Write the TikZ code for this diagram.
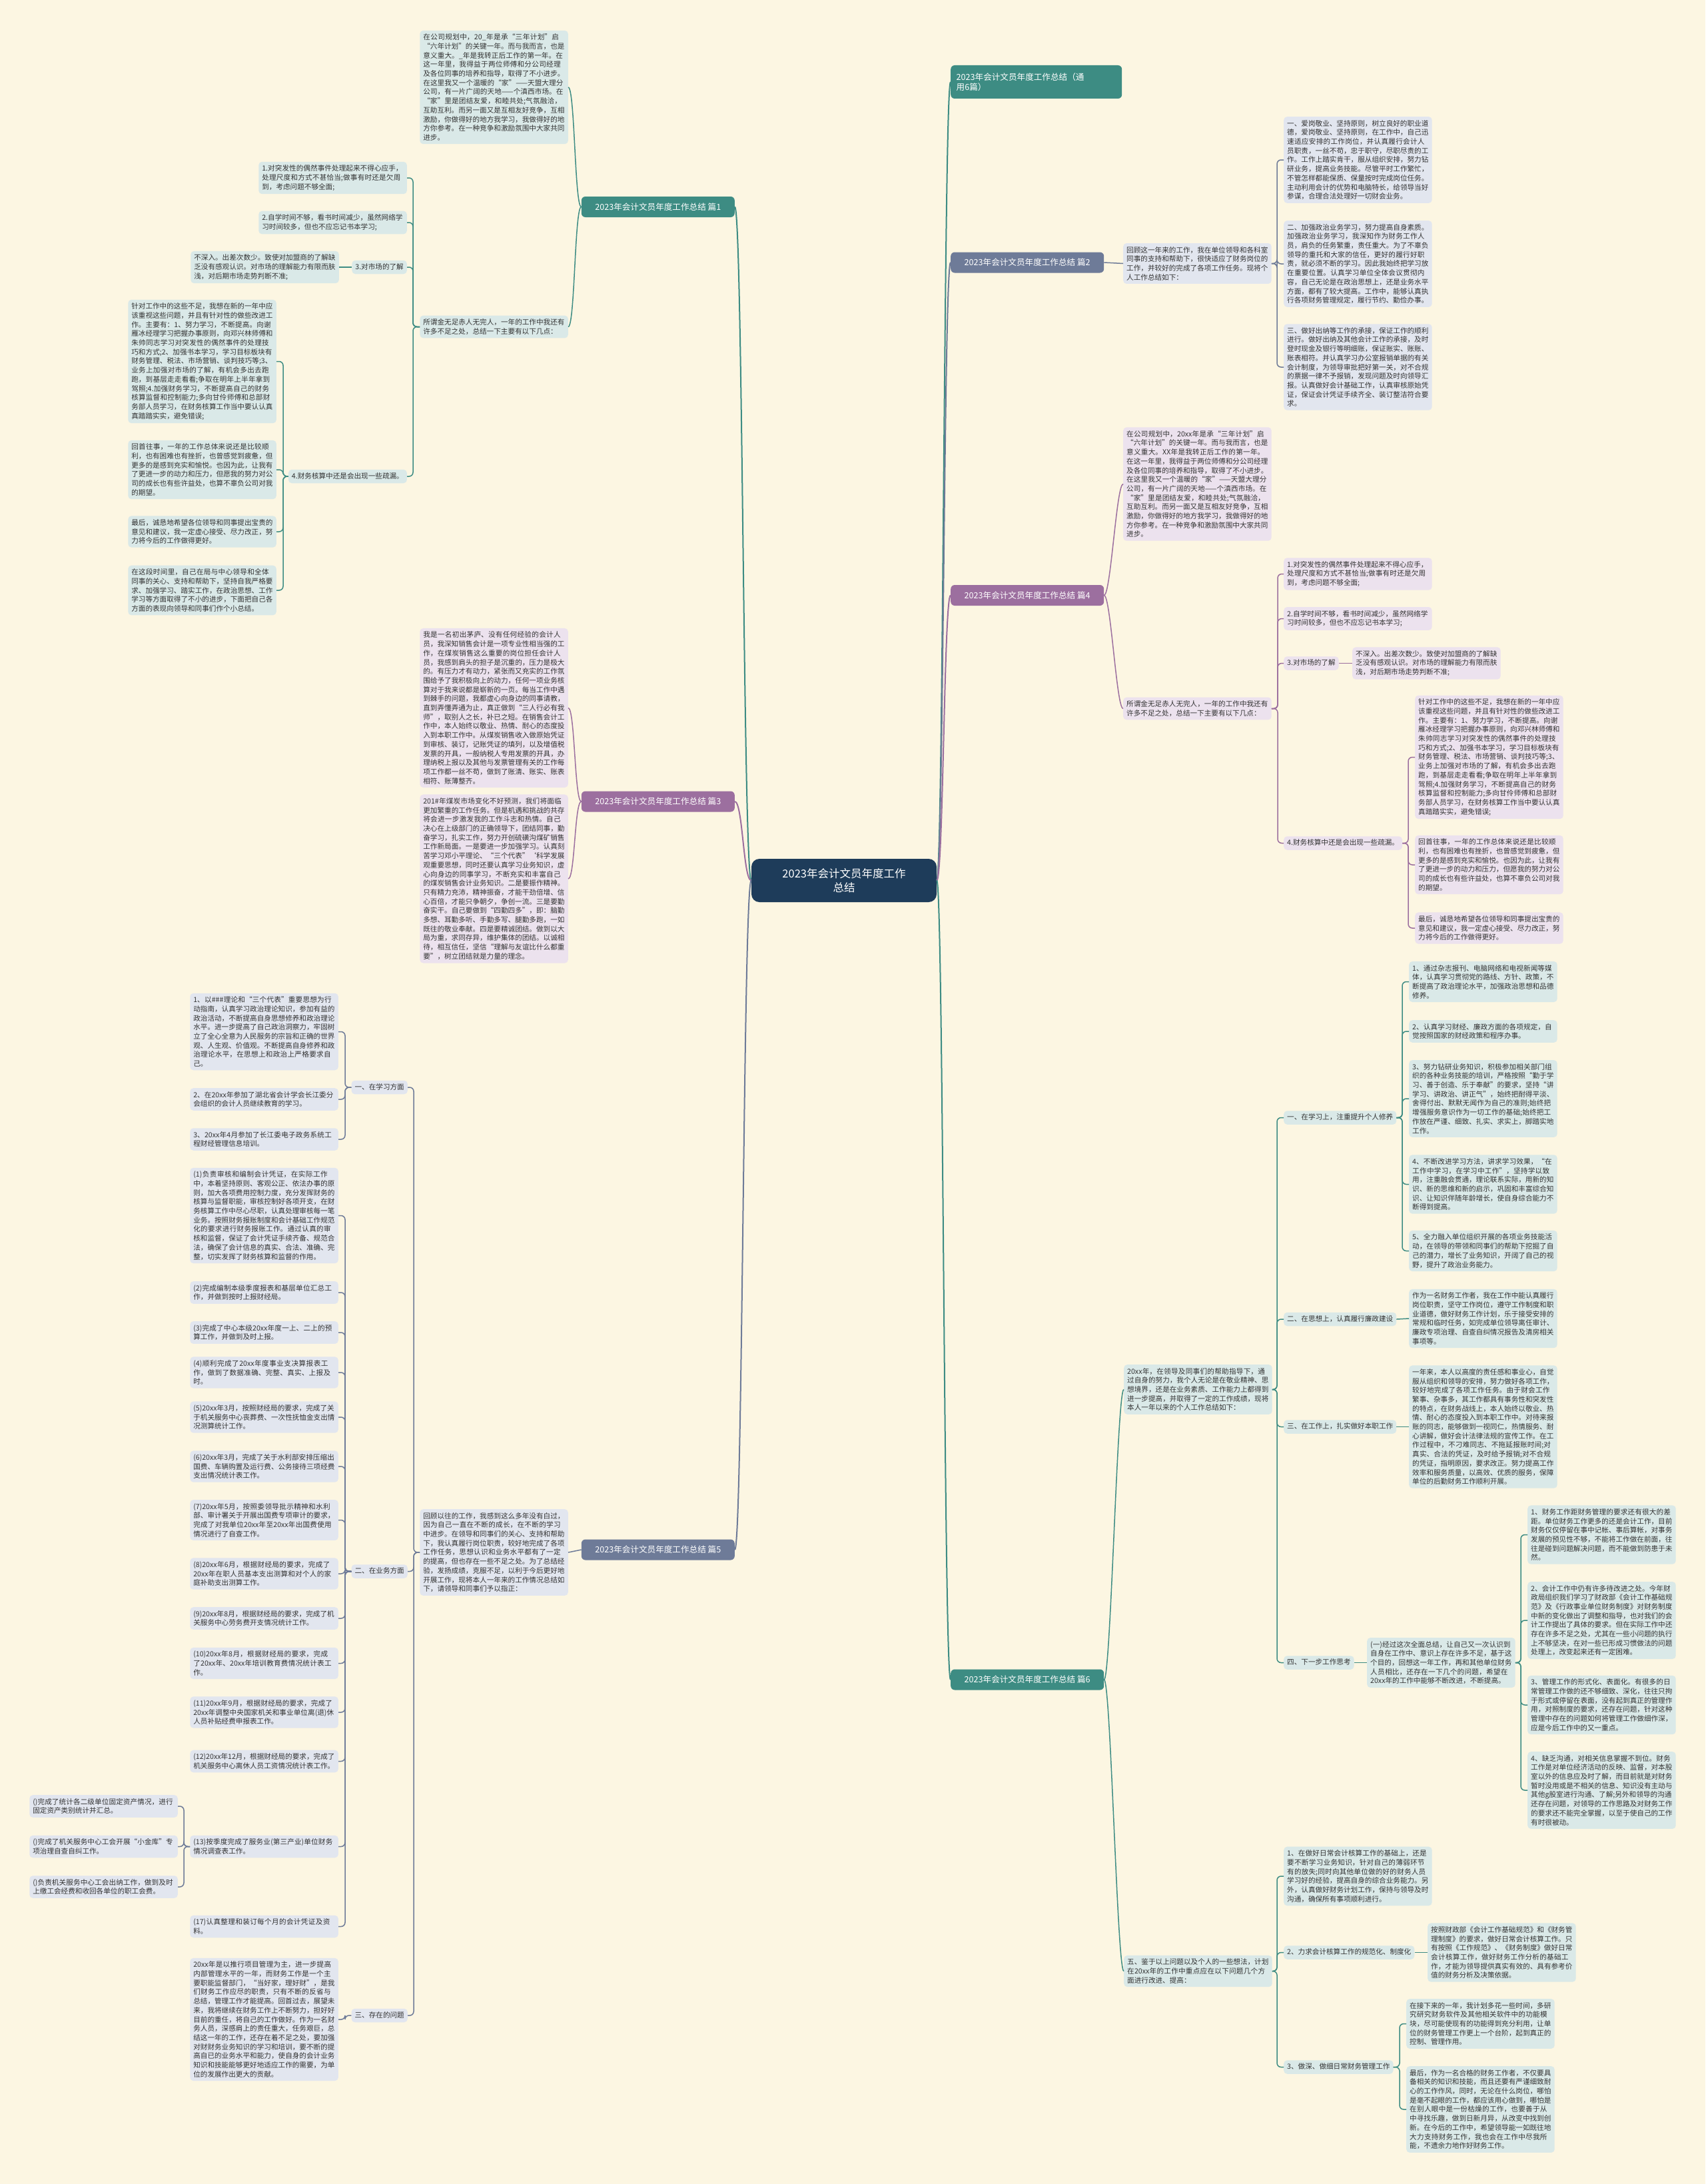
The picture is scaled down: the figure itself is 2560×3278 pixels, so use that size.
\documentclass[tikz,border=0pt]{standalone}
\usepackage{fontspec}
\setmainfont{Noto Sans CJK SC}
\XeTeXlinebreaklocale "zh"
\XeTeXlinebreakskip=0pt plus 1pt
\definecolor{bg}{RGB}{252,246,226}
\definecolor{txt}{RGB}{51,51,51}
\definecolor{cT}{RGB}{61,140,131}
\definecolor{cS}{RGB}{110,123,152}
\definecolor{cP}{RGB}{156,111,159}
\definecolor{fT}{RGB}{218,233,232}
\definecolor{fS}{RGB}{226,230,239}
\definecolor{fP}{RGB}{236,226,238}
\definecolor{navy}{RGB}{30,60,90}
\newcommand\fsb{\fontsize{10.6pt}{13.7pt}\selectfont}
\begin{document}
\begin{tikzpicture}[x=1pt,y=-1pt,
  tbox/.style={text width=212.5pt, align=left, inner xsep=5pt, inner ysep=5pt, rounded corners=5pt, font=\fsb, text=txt},
  tlab/.style={align=left, inner xsep=5pt, inner ysep=5pt, rounded corners=5pt, font=\fsb, text=txt, text height=8.5pt, text depth=2pt},
  bT/.style={tbox, fill=fT}, bS/.style={tbox, fill=fS}, bP/.style={tbox, fill=fP},
  lT/.style={tlab, fill=fT}, lS/.style={tlab, fill=fS}, lP/.style={tlab, fill=fP},
  lnT/.style={draw=cT, line width=1.5pt, rounded corners=6pt},
  lnS/.style={draw=cS, line width=1.5pt, rounded corners=6pt},
  lnP/.style={draw=cP, line width=1.5pt, rounded corners=6pt},
  lv1/.style={minimum width=230pt, minimum height=31pt, inner sep=0pt, rounded corners=6pt, font=\fontsize{12.6pt}{15.5pt}\selectfont, text=white},
  L/.style={anchor=east}, R/.style={anchor=west}
]
\fill[bg] (0,0) rectangle (2560,3278);
\useasboundingbox (0,0) rectangle (2560,3278);

% trunk coordinates
\coordinate (t1) at (620,0);
\coordinate (t1d) at (425,0);
\coordinate (t2) at (1917,0);
\coordinate (t4) at (1918,0);
\coordinate (t4d) at (2114,0);
\coordinate (t5) at (621,0);
\coordinate (t5a) at (518,0);
\coordinate (t5s) at (276,0);
\coordinate (t6) at (1917,0);
\coordinate (t6a) at (2105,0);
\coordinate (t6d) at (2283,0);
\coordinate (t6f) at (2101,0);

% center
\node[fill=navy, text=white, rounded corners=12pt, minimum width=278pt, minimum height=65pt, align=center, font=\fontsize{16.5pt}{21pt}\selectfont] (c) at (1267,1321.5) {2023年会计文员年度工作\\总结};

% level 1
\node[lv1, R, fill=cT, minimum width=257pt, minimum height=50pt, align=left, text width=240pt] (g0) at (1427,123) {2023年会计文员年度工作总结（通\\用6篇）};
\node[lv1, L, fill=cT] (b1) at (1103,310.5) {2023年会计文员年度工作总结 篇1};
\node[lv1, R, fill=cS] (b2) at (1427,394) {2023年会计文员年度工作总结 篇2};
\node[lv1, L, fill=cP] (b3) at (1103,1203) {2023年会计文员年度工作总结 篇3};
\node[lv1, R, fill=cP] (b4) at (1427,893.5) {2023年会计文员年度工作总结 篇4};
\node[lv1, L, fill=cS] (b5) at (1103,2326) {2023年会计文员年度工作总结 篇5};
\node[lv1, R, fill=cT] (b6) at (1427,2521) {2023年会计文员年度工作总结 篇6};

\draw[cT, line width=2pt] (c.east) .. controls +(10,0) and +(-10,0) .. (g0.west);
\draw[cT, line width=2pt] (c.west) .. controls +(-12,0) and +(12,0) .. (b1.east);
\draw[cS, line width=2pt] (c.east) .. controls +(10,0) and +(-10,0) .. (b2.west);
\draw[cP, line width=2pt] (c.west) .. controls +(-12,0) and +(12,0) .. (b3.east);
\draw[cP, line width=2pt] (c.east) .. controls +(10,0) and +(-10,0) .. (b4.west);
\draw[cS, line width=2pt] (c.west) .. controls +(-12,0) and +(12,0) .. (b5.east);
\draw[cT, line width=2pt] (c.east) .. controls +(10,0) and +(-10,0) .. (b6.west);

% ---------------- 篇1 ----------------
\node[bT, L] (p1i) at (853,131) {在公司规划中，20\_年是承“三年计划”启“六年计划”的关键一年。而与我而言，也是意义重大。\_年是我转正后工作的第一年。在这一年里，我得益于两位师傅和分公司经理及各位同事的培养和指导，取得了不小进步。在这里我又一个温暖的“家”——天盟大理分公司，有一片广阔的天地——个滇西市场。在“家”里是团结友爱，和睦共处;气氛融洽，互助互利。而另一面又是互相友好竞争，互相激励，你做得好的地方我学习，我做得好的地方你参考。在一种竞争和激励氛围中大家共同进步。};
\node[bT, L] (p1s) at (853,490.5) {所谓金无足赤人无完人，一年的工作中我还有许多不足之处，总结一下主要有以下几点：};
\node[bT, L] (p1c1) at (611,267) {1.对突发性的偶然事件处理起来不得心应手，处理尺度和方式不甚恰当;做事有时还是欠周到，考虑问题不够全面;};
\node[bT, L] (p1c2) at (611,334) {2.自学时间不够，看书时间减少，虽然网络学习时间较多，但也不应忘记书本学习;};
\node[lT, L] (p1c3) at (611,401) {3.对市场的了解};
\node[bT, L] (p1c3x) at (509,401) {不深入。出差次数少。致使对加盟商的了解缺乏没有感观认识。对市场的理解能力有限而肤浅，对后期市场走势判断不准;};
\node[lT, L] (p1c4) at (611,715) {4.财务核算中还是会出现一些疏漏。};
\node[bT, L] (p1d1) at (415,542.5) {针对工作中的这些不足，我想在新的一年中应该重视这些问题，并且有针对性的做些改进工作。主要有：1、努力学习，不断提高。向谢雁冰经理学习把握办事原则，向邓兴林师傅和朱帅同志学习对突发性的偶然事件的处理技巧和方式;2、加强书本学习，学习目标板块有财务管理、税法、市场营销、谈判技巧等;3、业务上加强对市场的了解，有机会多出去跑跑，到基层走走看看;争取在明年上半年拿到驾照;4.加强财务学习，不断提高自己的财务核算监督和控制能力;多向甘伶师傅和总部财务部人员学习，在财务核算工作当中要认认真真踏踏实实，避免错误;};
\node[bT, L] (p1d2) at (415,705) {回首往事，一年的工作总体来说还是比较顺利，也有困难也有挫折，也曾感觉到疲惫，但更多的是感到充实和愉悦。也因为此，让我有了更进一步的动力和压力，但愿我的努力对公司的成长也有些许益处，也算不辜负公司对我的期望。};
\node[bT, L] (p1d3) at (415,798) {最后，诚恳地希望各位领导和同事提出宝贵的意见和建议，我一定虚心接受、尽力改正，努力将今后的工作做得更好。};
\node[bT, L] (p1d4) at (415,886) {在这段时间里，自己在局与中心领导和全体同事的关心、支持和帮助下，坚持自我严格要求、加强学习、踏实工作，在政治思想、工作学习等方面取得了不小的进步，下面把自己各方面的表现向领导和同事们作个小总结。};

\draw[cT, line width=1.5pt] (b1.west) .. controls +(-10,0) and +(10,0) .. (p1i.east);
\draw[cT, line width=1.5pt] (b1.west) .. controls +(-10,0) and +(10,0) .. (p1s.east);
\foreach \n in {p1c1,p1c2,p1c3,p1c4} \draw[lnT] (p1s.west) -- (p1s.west -| t1) |- (\n.east);
\draw[lnT] (p1c3.west) -- (p1c3x.east);
\foreach \n in {p1d1,p1d2,p1d3,p1d4} \draw[lnT] (p1c4.west) -- (p1c4.west -| t1d) |- (\n.east);

% ---------------- 篇2 ----------------
\node[bS, R] (p2i) at (1686,395.5) {回顾这一年来的工作，我在单位领导和各科室同事的支持和帮助下，很快适应了财务岗位的工作，并较好的完成了各项工作任务。现将个人工作总结如下：};
\node[bS, R] (p2c1) at (1927,240) {一、爱岗敬业、坚持原则，树立良好的职业道德，爱岗敬业、坚持原则，在工作中，自己迅速适应安排的工作岗位，并认真履行会计人员职责，一丝不苟，忠于职守，尽职尽责的工作。工作上踏实肯干，服从组织安排，努力钻研业务，提高业务技能。尽管平时工作繁忙，不管怎样都能保质、保量按时完成岗位任务。主动利用会计的优势和电脑特长，给领导当好参谋，合理合法处理好一切财会业务。};
\node[bS, R] (p2c2) at (1927,396) {二、加强政治业务学习，努力提高自身素质。加强政治业务学习，我深知作为财务工作人员，肩负的任务繁重，责任重大。为了不辜负领导的重托和大家的信任，更好的履行好职责，就必须不断的学习。因此我始终把学习放在重要位置。认真学习单位全体会议贯彻内容，自己无论是在政治思想上，还是业务水平方面，都有了较大提高。工作中，能够认真执行各项财务管理规定，履行节约、勤俭办事。};
\node[bS, R] (p2c3) at (1927,551) {三、做好出纳等工作的承接，保证工作的顺利进行。做好出纳及其他会计工作的承接，及时登时现金及银行等明细账，保证账实、账账、账表相符。并认真学习办公室报销单据的有关会计制度，为领导审批把好第一关，对不合规的票据一律不予报销，发现问题及时向领导汇报。认真做好会计基础工作，认真审核原始凭证，保证会计凭证手续齐全、装订整洁符合要求。};
\draw[lnS] (b2.east) -- (p2i.west);
\foreach \n in {p2c1,p2c2,p2c3} \draw[lnS] (p2i.east) -- (p2i.east -| t2) |- (\n.west);

% ---------------- 篇3 ----------------
\node[bP, L] (p3a) at (853,1062.5) {我是一名初出茅庐、没有任何经验的会计人员，我深知销售会计是一项专业性相当强的工作，在煤炭销售这么重要的岗位担任会计人员，我感到肩头的担子是沉重的，压力是极大的。有压力才有动力，紧张而又充实的工作氛围给予了我积极向上的动力，任何一项业务核算对于我来说都是崭新的一页。每当工作中遇到棘手的问题，我都虚心向身边的同事请教，直到弄懂弄通为止，真正做到“三人行必有我师”，取别人之长，补已之短。在销售会计工作中，本人始终以敬业、热情、耐心的态度投入到本职工作中。从煤炭销售收入做原始凭证到审核、装订，记账凭证的填列，以及增值税发票的开具，一般纳税人专用发票的开具，办理纳税上报以及其他与发票管理有关的工作每项工作都一丝不苟，做到了账清、账实、账表相符、账薄整齐。};
\node[bP, L] (p3b) at (853,1319) {201\#年煤炭市场变化不好预测，我们将面临更加繁重的工作任务。但是机遇和挑战的共存将会进一步激发我的工作斗志和热情。自己决心在上级部门的正确领导下，团结同事，勤奋学习，扎实工作，努力开创硫磺沟煤矿销售工作新局面。一是要进一步加强学习。认真刻苦学习邓小平理论、“三个代表”‘科学发展观重要思想，同时还要认真学习业务知识，虚心向身边的同事学习，不断充实和丰富自己的煤炭销售会计业务知识。二是要振作精神。只有精力充沛，精神振奋，才能干劲倍增、信心百倍，才能只争朝夕，争创一流。三是要勤奋实干。自己要做到“四勤四多”，即：脑勤多想、耳勤多听、手勤多写、腿勤多跑，一如既往的敬业奉献。四是要精诚团结。做到以大局为重，求同存异，维护集体的团结。以诚相待，相互信任，坚信“理解与友谊比什么都重要”，树立团结就是力量的理念。};
\draw[cP, line width=1.5pt] (b3.west) .. controls +(-10,0) and +(10,0) .. (p3a.east);
\draw[cP, line width=1.5pt] (b3.west) .. controls +(-10,0) and +(10,0) .. (p3b.east);

% ---------------- 篇4 ----------------
\node[bP, R] (p4i) at (1686,726.5) {在公司规划中，20xx年是承“三年计划”启“六年计划”的关键一年。而与我而言，也是意义重大。XX年是我转正后工作的第一年。在这一年里，我得益于两位师傅和分公司经理及各位同事的培养和指导，取得了不小进步。在这里我又一个温暖的“家”——天盟大理分公司，有一片广阔的天地——个滇西市场。在“家”里是团结友爱，和睦共处;气氛融洽，互助互利。而另一面又是互相友好竞争，互相激励，你做得好的地方我学习，我做得好的地方你参考。在一种竞争和激励氛围中大家共同进步。};
\node[bP, R] (p4s) at (1686,1063.5) {所谓金无足赤人无完人，一年的工作中我还有许多不足之处，总结一下主要有以下几点：};
\node[bP, R] (p4c1) at (1927,861.5) {1.对突发性的偶然事件处理起来不得心应手，处理尺度和方式不甚恰当;做事有时还是欠周到，考虑问题不够全面;};
\node[bP, R] (p4c2) at (1927,928.5) {2.自学时间不够，看书时间减少，虽然网络学习时间较多，但也不应忘记书本学习;};
\node[lP, R] (p4c3) at (1927,995.5) {3.对市场的了解};
\node[bP, R] (p4c3x) at (2030,995.5) {不深入。出差次数少。致使对加盟商的了解缺乏没有感观认识。对市场的理解能力有限而肤浅，对后期市场走势判断不准;};
\node[lP, R] (p4c4) at (1927,1265.5) {4.财务核算中还是会出现一些疏漏。};
\node[bP, R] (p4d1) at (2124,1136.5) {针对工作中的这些不足，我想在新的一年中应该重视这些问题，并且有针对性的做些改进工作。主要有：1、努力学习，不断提高。向谢雁冰经理学习把握办事原则，向邓兴林师傅和朱帅同志学习对突发性的偶然事件的处理技巧和方式;2、加强书本学习，学习目标板块有财务管理、税法、市场营销、谈判技巧等;3、业务上加强对市场的了解，有机会多出去跑跑，到基层走走看看;争取在明年上半年拿到驾照;4.加强财务学习，不断提高自己的财务核算监督和控制能力;多向甘伶师傅和总部财务部人员学习，在财务核算工作当中要认认真真踏踏实实，避免错误;};
\node[bP, R] (p4d2) at (2124,1298) {回首往事，一年的工作总体来说还是比较顺利，也有困难也有挫折，也曾感觉到疲惫，但更多的是感到充实和愉悦。也因为此，让我有了更进一步的动力和压力，但愿我的努力对公司的成长也有些许益处，也算不辜负公司对我的期望。};
\node[bP, R] (p4d3) at (2124,1393) {最后，诚恳地希望各位领导和同事提出宝贵的意见和建议，我一定虚心接受、尽力改正，努力将今后的工作做得更好。};
\draw[cP, line width=1.5pt] (b4.east) .. controls +(10,0) and +(-10,0) .. (p4i.west);
\draw[cP, line width=1.5pt] (b4.east) .. controls +(10,0) and +(-10,0) .. (p4s.west);
\foreach \n in {p4c1,p4c2,p4c3,p4c4} \draw[lnP] (p4s.east) -- (p4s.east -| t4) |- (\n.west);
\draw[lnP] (p4c3.east) -- (p4c3x.west);
\foreach \n in {p4d1,p4d2,p4d3} \draw[lnP] (p4c4.east) -- (p4c4.east -| t4d) |- (\n.west);

% ---------------- 篇5 ----------------
\node[bS, L] (p5i) at (853,2330) {回顾以往的工作，我感到这么多年没有白过，因为自己一直在不断的成长，在不断的学习中进步。在领导和同事们的关心、支持和帮助下，我认真履行岗位职责，较好地完成了各项工作任务，思想认识和业务水平都有了一定的提高，但也存在一些不足之处。为了总结经验，发扬成绩，克服不足，以利于今后更好地开展工作，现将本人一年来的工作情况总结如下，请领导和同事们予以指正：};
\node[lS, L] (p5L1) at (612,1632) {一、在学习方面};
\node[lS, L] (p5L2) at (612,2358.5) {二、在业务方面};
\node[lS, L] (p5L3) at (612,3025) {三、存在的问题};
\node[bS, L] (p5a1) at (508,1548.5) {1、以\#\#\#理论和“三个代表”重要思想为行动指南，认真学习政治理论知识，参加有益的政治活动，不断提高自身思想修养和政治理论水平。进一步提高了自己政治洞察力，牢固树立了全心全意为人民服务的宗旨和正确的世界观、人生观、价值观。不断提高自身修养和政治理论水平，在思想上和政治上严格要求自己。};
\node[bS, L] (p5a2) at (508,1650) {2、在20xx年参加了湖北省会计学会长江委分会组织的会计人员继续教育的学习。};
\node[bS, L] (p5a3) at (508,1710) {3、20xx年4月参加了长江委电子政务系统工程财经管理信息培训。};
\node[bS, L] (p5b1) at (508,1824.5) {(1)负责审核和编制会计凭证，在实际工作中，本着坚持原则、客观公正、依法办事的原则，加大各项费用控制力度，充分发挥财务的核算与监督职能，审核控制好各项开支，在财务核算工作中尽心尽职，认真处理审核每一笔业务。按照财务报账制度和会计基础工作规范化的要求进行财务报账工作。通过认真的审核和监督，保证了会计凭证手续齐备、规范合法，确保了会计信息的真实、合法、准确、完整，切实发挥了财务核算和监督的作用。};
\node[bS, L] (p5b2) at (508,1940) {(2)完成编制本级季度报表和基层单位汇总工作，并做到按时上报财经局。};
\node[bS, L] (p5b3) at (508,2000) {(3)完成了中心本级20xx年度一上、二上的预算工作，并做到及时上报。};
\node[bS, L] (p5b4) at (508,2060) {(4)顺利完成了20xx年度事业支决算报表工作，做到了数据准确、完整、真实、上报及时。};
\node[bS, L] (p5b5) at (508,2127) {(5)20xx年3月，按照财经局的要求，完成了关于机关服务中心丧葬费、一次性抚恤金支出情况测算统计工作。};
\node[bS, L] (p5b6) at (508,2201) {(6)20xx年3月，完成了关于水利部安排压缩出国费、车辆购置及运行费、公务接待三项经费支出情况统计表工作。};
\node[bS, L] (p5b7) at (508,2281.5) {(7)20xx年5月，按照委领导批示精神和水利部、审计署关于开展出国费专项审计的要求，完成了对我单位20xx年至20xx年出国费使用情况进行了自查工作。};
\node[bS, L] (p5b8) at (508,2362) {(8)20xx年6月，根据财经局的要求，完成了20xx年在职人员基本支出测算和对个人的家庭补助支出测算工作。};
\node[bS, L] (p5b9) at (508,2429) {(9)20xx年8月，根据财经局的要求，完成了机关服务中心劳务费开支情况统计工作。};
\node[bS, L] (p5b10) at (508,2496.5) {(10)20xx年8月，根据财经局的要求，完成了20xx年、20xx年培训教育费情况统计表工作。};
\node[bS, L] (p5b11) at (508,2570) {(11)20xx年9月，根据财经局的要求，完成了20xx年调整中央国家机关和事业单位离(退)休人员补贴经费申报表工作。};
\node[bS, L] (p5b12) at (508,2643.5) {(12)20xx年12月，根据财经局的要求，完成了机关服务中心离休人员工资情况统计表工作。};
\node[bS, L] (p5b13) at (508,2771.5) {(13)按季度完成了服务业(第三产业)单位财务情况调查表工作。};
\node[bS, L] (p5b17) at (508,2891.5) {(17)认真整理和装订每个月的会计凭证及资料。};
\node[bS, L] (p5s1) at (267,2711) {()完成了统计各二级单位固定资产情况，进行固定资产类别统计并汇总。};
\node[bS, L] (p5s2) at (267,2771.5) {()完成了机关服务中心工会开展“小金库”专项治理自查自纠工作。};
\node[bS, L] (p5s3) at (267,2832) {()负责机关服务中心工会出纳工作，做到及时上缴工会经费和收回各单位的职工会费。};
\node[bS, L] (p5c) at (508,3031) {20xx年是以推行项目管理为主，进一步提高内部管理水平的一年，而财务工作是一个主要职能监督部门，“当好家，理好财”，是我们财务工作应尽的职责，只有不断的反省与总结，管理工作才能提高。回首过去，展望未来，我将继续在财务工作上不断努力，担好好目前的重任，将自己的工作做好。作为一名财务人员，深感肩上的责任重大，任务艰巨，总结这一年的工作，还存在着不足之处，要加强对财财务业务知识的学习和培训，要不断的提高自已的业务水平和能力，使自身的会计业务知识和技能能够更好地适应工作的需要，为单位的发展作出更大的贡献。};
\draw[lnS] (b5.west) -- (p5i.east);
\foreach \n in {p5L1,p5L2,p5L3} \draw[lnS] (p5i.west) -- (p5i.west -| t5) |- (\n.east);
\foreach \n in {p5a1,p5a2,p5a3} \draw[lnS] (p5L1.west) -- (p5L1.west -| t5a) |- (\n.east);
\foreach \n in {p5b1,p5b2,p5b3,p5b4,p5b5,p5b6,p5b7,p5b8,p5b9,p5b10,p5b11,p5b12,p5b13,p5b17} \draw[lnS] (p5L2.west) -- (p5L2.west -| t5a) |- (\n.east);
\foreach \n in {p5s1,p5s2,p5s3} \draw[lnS] (p5b13.west) -- (p5b13.west -| t5s) |- (\n.east);
\draw[lnS] (p5L3.west) -- (p5L3.west -| t5a) |- (p5c.east);

% ---------------- 篇6 ----------------
\node[bT, R] (p6i) at (1687,2085.5) {20xx年，在领导及同事们的帮助指导下，通过自身的努力，我个人无论是在敬业精神、思想境界，还是在业务素质、工作能力上都得到进一步提高，并取得了一定的工作成绩，现将本人一年以来的个人工作总结如下：};
\node[lT, R] (p6L1) at (1927,1677.5) {一、在学习上，注重提升个人修养};
\node[lT, R] (p6L2) at (1927,1980) {二、在思想上，认真履行廉政建设};
\node[lT, R] (p6L3) at (1927,2141.5) {三、在工作上，扎实做好本职工作};
\node[lT, R] (p6L4) at (1927,2495.5) {四、下一步工作思考};
\node[bT, R] (p6a1) at (2115,1473.5) {1、通过杂志报刊、电脑网络和电视新闻等媒体，认真学习贯彻党的路线、方针、政策，不断提高了政治理论水平，加强政治思想和品德修养。};
\node[bT, R] (p6a2) at (2115,1548) {2、认真学习财经、廉政方面的各项规定，自觉按照国家的财经政策和程序办事。};
\node[bT, R] (p6a3) at (2115,1649) {3、努力钻研业务知识，积极参加相关部门组织的各种业务技能的培训，严格按照“勤于学习、善于创造、乐于奉献”的要求，坚持“讲学习、讲政治、讲正气”，始终把耐得平淡、舍得付出、默默无闻作为自己的准则;始终把增强服务意识作为一切工作的基础;始终把工作放在严谨、细致、扎实、求实上，脚踏实地工作。};
\node[bT, R] (p6a4) at (2115,1777.5) {4、不断改进学习方法，讲求学习效果，“在工作中学习，在学习中工作”，坚持学以致用，注重融会贯通，理论联系实际，用新的知识、新的思维和新的启示，巩固和丰富综合知识、让知识伴随年龄增长，使自身综合能力不断得到提高。};
\node[bT, R] (p6a5) at (2115,1877.5) {5、全力融入单位组织开展的各项业务技能活动，在领导的带领和同事们的帮助下挖掘了自己的潜力，增长了业务知识，开阔了自己的视野，提升了政治业务能力。};
\node[bT, R] (p6b) at (2115,1979) {作为一名财务工作者，我在工作中能认真履行岗位职责，坚守工作岗位，遵守工作制度和职业道德，做好财务工作计划，乐于接受安排的常规和临时任务，如完成单位领导离任审计、廉政专项治理、自查自纠情况报告及清房相关事项等。};
\node[bT, R] (p6c) at (2115,2141.5) {一年来，本人以高度的责任感和事业心，自觉服从组织和领导的安排，努力做好各项工作，较好地完成了各项工作任务。由于财会工作繁事、杂事多，其工作都具有事务性和突发性的特点，在财务战线上，本人始终以敬业、热情、耐心的态度投入到本职工作中。对待来报账的同志，能够做到一视同仁，热情服务、耐心讲解，做好会计法律法规的宣传工作。在工作过程中，不刁难同志、不拖延报账时间;对真实、合法的凭证，及时给予报销;对不合规的凭证，指明原因，要求改正。努力提高工作效率和服务质量，以高效、优质的服务，保障单位的后勤财务工作顺利开展。};
\node[bT, R] (p6d0) at (2052,2495.5) {(一)经过这次全面总结，让自己又一次认识到自身在工作中、意识上存在许多不足，基于这个目的，回想这一年工作，再和其他单位财务人员相比，还存在一下几个的问题，希望在20xx年的工作中能够不断改进，不断提高。};
\node[bT, R] (p6d1) at (2293,2303.5) {1、财务工作距财务管理的要求还有很大的差距。单位财务工作更多的还是会计工作，目前财务仅仅停留在事中记帐、事后算帐，对事务发展的预见性不够，不能将工作做在前面，往往是碰到问题解决问题，而不能做到防患于未然。};
\node[bT, R] (p6d2) at (2293,2432) {2、会计工作中仍有许多待改进之处。今年财政局组织我们学习了财政部《会计工作基础规范》及《行政事业单位财务制度》对财务制度中新的变化做出了调整和指导，也对我们的会计工作提出了具体的要求。但在实际工作中还存在许多不足之处，尤其在一些小问题的执行上不够坚决，在对一些已形成习惯做法的问题处理上，改变起来还有一定困难。};
\node[bT, R] (p6d3) at (2293,2559) {3、管理工作的形式化、表面化。有很多的日常管理工作做的还不够细致、深化，往往只拘于形式或停留在表面，没有起到真正的管理作用，对照制度的要求，还存在问题，针对这种管理中存在的问题如何将管理工作做细作深，应是今后工作中的又一重点。};
\node[bT, R] (p6d4) at (2293,2687) {4、缺乏沟通，对相关信息掌握不到位。财务工作是对单位经济活动的反映、监督，对本股室以外的信息应及时了解，而目前就是对财务暂时没用或是不相关的信息、知识没有主动与其他g股室进行沟通、了解;另外和领导的沟通还存在问题，对领导的工作思路及对财务工作的要求还不能完全掌握，以至于使自己的工作有时很被动。};
\node[bT, R] (p6e0) at (1687,2958.5) {五、鉴于以上问题以及个人的一些想法，计划在20xx年的工作中重点应在以下问题几个方面进行改进、提高：};
\node[bT, R] (p6e1) at (1927,2816) {1、在做好日常会计核算工作的基础上，还是要不断学习业务知识，针对自己的薄弱环节有的放失;同时向其他单位做的好的财务人员学习好的经验，提高自身的综合业务能力。另外，认真做好财务计划工作，保持与领导及时沟通，确保所有事项顺利进行。};
\node[lT, R] (p6e2) at (1927,2930.5) {2、力求会计核算工作的规范化、制度化};
\node[bT, R] (p6e2x) at (2143,2930.5) {按照财政部《会计工作基础规范》和《财务管理制度》的要求，做好日常会计核算工作。只有按照《工作规范》、《财务制度》做好日常会计核算工作，做好财务工作分析的基础工作，才能为领导提供真实有效的、具有参考价值的财务分析及决策依据。};
\node[lT, R] (p6e3) at (1927,3102.5) {3、做深、做细日常财务管理工作};
\node[bT, R] (p6f1) at (2111,3037.5) {在接下来的一年，我计划多花一些时间，多研究研究财务软件及其他相关软件中的功能模块，尽可能使现有的功能得到充分利用，让单位的财务管理工作更上一个台阶，起到真正的控制、管理作用。};
\node[bT, R] (p6f2) at (2111,3166) {最后，作为一名合格的财务工作者，不仅要具备相关的知识和技能，而且还要有严谨细致耐心的工作作风，同时，无论在什么岗位，哪怕是毫不起眼的工作，都应该用心做到，哪怕是在别人眼中是一份枯燥的工作，也要善于从中寻找乐趣，做到日新月异，从改变中找到创新。在今后的工作中，希望领导能一如既往地大力支持财务工作，我也会在工作中尽我所能，不遗余力地作好财务工作。};

\draw[cT, line width=1.5pt] (b6.east) .. controls +(10,0) and +(-10,0) .. (p6i.west);
\draw[cT, line width=1.5pt] (b6.east) .. controls +(10,0) and +(-10,0) .. (p6e0.west);
\foreach \n in {p6L1,p6L2,p6L3,p6L4} \draw[lnT] (p6i.east) -- (p6i.east -| t6) |- (\n.west);
\foreach \n in {p6a1,p6a2,p6a3,p6a4,p6a5} \draw[lnT] (p6L1.east) -- (p6L1.east -| t6a) |- (\n.west);
\draw[lnT] (p6L2.east) -- (p6b.west);
\draw[lnT] (p6L3.east) -- (p6c.west);
\draw[lnT] (p6L4.east) -- (p6d0.west);
\foreach \n in {p6d1,p6d2,p6d3,p6d4} \draw[lnT] (p6d0.east) -- (p6d0.east -| t6d) |- (\n.west);
\foreach \n in {p6e1,p6e2,p6e3} \draw[lnT] (p6e0.east) -- (p6e0.east -| t6) |- (\n.west);
\draw[lnT] (p6e2.east) -- (p6e2x.west);
\foreach \n in {p6f1,p6f2} \draw[lnT] (p6e3.east) -- (p6e3.east -| t6f) |- (\n.west);
\end{tikzpicture}
\end{document}
